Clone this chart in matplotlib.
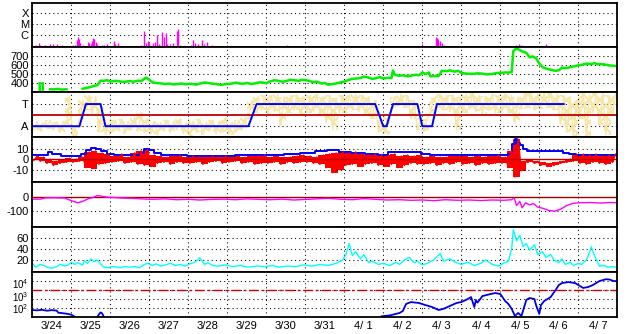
import numpy as np
import matplotlib
matplotlib.use('Agg')
import matplotlib.pyplot as plt
from matplotlib.ticker import NullLocator
from matplotlib.transforms import ScaledTranslation

plt.rcParams['font.family'] = ['Liberation Sans', 'DejaVu Sans']
plt.rcParams['mathtext.fontset'] = 'custom'
plt.rcParams['mathtext.rm'] = 'Liberation Sans'
plt.rcParams['mathtext.default'] = 'regular'
plt.rcParams['hatch.linewidth'] = 1.6

nan = np.nan

# ---------------- data (time in hours since 3/24 00 UT) ----------------
day_labels = ['3/24', '3/25', '3/26', '3/27', '3/28', '3/29', '3/30', '3/31',
              '4/ 1', '4/ 2', '4/ 3', '4/ 4', '4/ 5', '4/ 6', '4/ 7']

# Panel 1: GOES X-ray flux (W/m^2)
xray_h = [0, 2, 4, 5, 8, 11, 13, 15, 18, 25, 26, 27.5, 28, 29, 29.5, 31, 34, 35, 36, 37,
          37.5, 38, 39, 40, 43, 44, 46, 50, 51, 53, 55, 57, 67, 69, 70, 71, 72, 74, 75.5, 77,
          78, 80, 81, 82, 83, 85, 86.5, 89, 89.8, 91, 92, 97.5, 99, 100, 102, 104.5, 105.5,
          107.5, 110.5, 112.5, 120, 121.5, 157, 240, 248.5, 249, 249.5, 251, 252, 253.5,
          254.5, 257, 272.5, 279, 284, 297.5, 299.5, 301, 304.5, 316]
xray_f = [1.2e-7, 1.2e-7, 1.9e-7, 1.2e-7, 1.2e-7, 1.5e-7, 1.5e-7, 1.5e-7, 1.2e-7, 1.2e-7,
          1.2e-7, 3.5e-7, 6.6e-7, 4.3e-7, 1.9e-7, 1.2e-7, 2.3e-7, 1.9e-7, 1.5e-7, 2.8e-7,
          5.3e-7, 4.3e-7, 2.3e-7, 1.5e-7, 1.2e-7, 1.2e-7, 1.5e-7, 2.8e-7, 1.5e-7, 1.9e-7,
          1.0e-7, 1.0e-7, 1.2e-7, 2.3e-6, 1.9e-7, 2.8e-7, 1.9e-7, 1.9e-7, 2.3e-7, 1.2e-6,
          1.5e-7, 1.9e-6, 6.6e-7, 1.5e-6, 1.5e-7, 1.5e-7, 1.9e-7, 2.3e-6, 3.5e-6, 1.2e-7,
          1.0e-7, 1.2e-7, 3.5e-7, 1.9e-7, 1.5e-7, 3.5e-7, 1.5e-7, 2.3e-7, 1.2e-7, 1.0e-7,
          1.2e-7, 1.0e-7, 1.2e-7, 1.5e-7, 6.6e-7, 5.3e-7, 4.3e-7, 2.8e-7, 1.9e-7, 1.2e-7,
          1.0e-7, 1.0e-7, 1.0e-7, 1.0e-7, 1.0e-7, 1.2e-7, 1.5e-7, 1.2e-7, 1.0e-7, 1.5e-7]

# Panel 2: solar wind speed (km/s)
speed_h = [4.5, 4.6, nan, 6.4, 6.5, nan, 11, 13, 16, 18, 21, nan, 31, 34, 36, 38, 40, 42,
           44, 46, 48, 51, 53, 56, 58, 60, 62, 65, 67, 70, 72, 74, 77, 79, 82, 84, 87, 89,
           92, 94, 96, 98, 101, 103, 106, 108, 111, 113, 116, 118, 120, 122, 125, 127, 130,
           132, 135, 137, 140, 142, 144, 146, 149, 151, 154, 156, 159, 161, 164, 166, 168,
           170, 173, 175, 178, 180, 182, 185, 187, 190, 192, 195, 197, 200, 202, 204, 206,
           209, 211, 214, 216, 219, 221, 222, 223, 226, 228, 231, 233, 236, 238, 240, 242,
           244, 245, 248, 250, 252, 255, 257, 260, 262, 264, 268, 271, 274, 276, 280, 283,
           286, 288, 291, 293, 295, 296, 298, 300, 302, 304, 306, 308, 310, 312, 314, 317,
           320, 322, 324, 326, 329, 331, 334, 336, 339, 341, 344, 346, 348, 350, 353, 355,
           358, 360]
speed_v = [400, 300, nan, 400, 300, nan, 335, 333, 338, 331, 334, nan, 340, 352, 360, 372,
           380, 430, 428, 436, 420, 428, 425, 415, 420, 426, 418, 430, 425, 465, 440, 410,
           404, 400, 392, 398, 388, 392, 398, 390, 394, 395, 386, 398, 410, 405, 396, 392,
           384, 388, 396, 395, 408, 400, 396, 405, 392, 400, 412, 408, 402, 420, 435, 430,
           418, 425, 440, 435, 428, 440, 436, 430, 412, 420, 398, 405, 385, 392, 400, 412,
           420, 440, 450, 455, 460, 475, 470, 450, 455, 470, 455, 462, 460, 544, 495, 484,
           490, 478, 485, 496, 490, 520, 505, 522, 478, 482, 480, 540, 535, 545, 530, 540,
           515, 508, 505, 512, 510, 500, 505, 516, 515, 522, 520, 525, 760, 790, 770, 752,
           740, 690, 700, 680, 620, 580, 560, 548, 540, 545, 575, 570, 580, 592, 600, 610,
           620, 615, 625, 612, 615, 608, 600, 596, 590]

# Panel 3: IMF phi angle (deg), 4-hour bins: low / high of the scatter
phi_lo = [60, 50, 70, 60, 40, 90,
          0, 80, 220, 200, 40, 20,
          40, 50, 30, 60, 50, 40,
          30, 20, 50, 40, 60, 30,
          10, 40, 20, 50, 30, 40,
          20, 40, 60, 150, 200, 220,
          190, 210, 100, 200, 220, 180,
          200, 210, 190, 120, 60, 200,
          200, 220, 210, 180, 150, 40,
          30, 220, 250, 240, 150, 60,
          50, 200, 230, 220, 210, 60,
          200, 230, 210, 190, 220, 200,
          210, 200, 120, 230, 240, 220,
          230, 240, 220, 100, 40, 10,
          150, 10, 200, 100, 20, 180]
phi_hi = [130, 120, 140, 125, 130, 330,
          90, 300, 340, 330, 250, 110,
          140, 150, 130, 160, 200, 150,
          130, 120, 140, 130, 150, 120,
          130, 150, 120, 140, 130, 160,
          120, 140, 160, 300, 330, 340,
          340, 350, 330, 340, 345, 330,
          340, 350, 330, 340, 320, 345,
          340, 350, 340, 330, 300, 140,
          170, 330, 350, 340, 300, 160,
          150, 320, 350, 340, 345, 330,
          350, 360, 340, 335, 350, 340,
          350, 340, 330, 360, 360, 350,
          360, 365, 350, 340, 330, 300,
          360, 350, 365, 360, 340, 360]
sector_h = [0, 29, 33, 42, 45, 133, 138, 211, 216, 218, 222, 237, 240, 246, 249, 327]
sector_v = [90, 90, 270, 270, 90, 90, 270, 270, 90, 90, 270, 270, 90, 90, 270, 270]

# Panel 4: Bt (nT) and Bz 4-hour low/high (nT)
bt_h = [0, 4, 8, 11, 13, 17, 18, 24, 29, 31, 35, 37, 41, 44, 48, 53, 60, 65, 67, 71, 73,
        77, 82, 90, 100, 110, 120, 130, 140, 150, 160, 170, 178, 185, 192, 200, 210, 216,
        222, 238, 240, 250, 260, 270, 280, 290, 295, 296, 297.5, 299, 301, 303, 306, 315,
        325, 328, 333, 336, 345, 360]
bt_v = [4.5, 4.5, 4.3, 6.5, 5, 5, 3, 3, 3, 5, 9, 11, 10, 8, 5, 4.3, 4.3, 4.5, 6, 10, 9,
        6, 4.5, 4, 3.5, 3, 3.5, 4, 4.3, 4.5, 5, 6, 8, 9, 7, 6, 5, 4.5,
        7, 7, 5, 4.5, 4.3, 4.5, 4.3, 4.5, 5, 15, 19, 16, 14, 10, 8, 8,
        7.5, 6, 5, 4.3, 4.5, 4.3]
bz_lo = [-1, -2, -4, -6, -4, -3,
         -3, -2, -8, -9, -5, -4,
         -3, -2, -4, -3, -5, -6,
         -7, -4, -3, -5, -3, -4,
         -4, -3, -5, -3, -2, -4,
         -3, -2, -4, -3, -5, -4,
         -4, -3, -5, -3, -4, -3,
         -3, -4, -5, -8, -13, -10,
         -6, -5, -7, -5, -4, -6,
         -7, -5, -8, -6, -4, -5,
         -5, -4, -6, -4, -5, -3,
         -5, -4, -6, -4, -5, -4,
         -4, -8, -17, -11, -3, -4,
         -6, -7, -6, -4, -3, -2,
         -4, -5, -3, -4, -5, -3]
bz_hi = [3, 2, 0, -2, -1, 1,
         0, 2, 7, 8, 6, 5,
         3, 5, 2, 6, 8, 9,
         4, 3, 2, 3, 4, 2,
         3, 2, 2, 3, 2, 3,
         2, 3, 2, 3, 3, 4,
         2, 3, 2, 2, 3, 4,
         3, 2, 4, 5, 6, 7,
         6, 7, 5, 4, 5, 4,
         4, 5, 3, 4, 3, 4,
         2, 3, 2, 2, 3, 3,
         3, 2, 3, 2, 3, 4,
         2, 8, 19, -2, -1, -2,
         -3, -4, -3, -2, 0, 4,
         5, 4, 5, 3, 4, 5]

# Panel 5: Dst (nT)
dst_h = [0, 5, 8, 14, 20, 24, 28, 31, 35, 37, 40, 42, 46, 50, 55, 62, 70, 74, 82, 89, 96,
         103, 110, 118, 125, 132, 139, 146, 154, 161, 168, 175, 182, 190, 197, 204, 211,
         218, 226, 233, 240, 247, 254, 262, 269, 276, 283, 290, 295, 296.6, 298, 300,
         301.4, 303.6, 306, 308.4, 310.8, 314.4, 318, 321.6, 325.2, 328.8, 332.4, 336,
         343, 350, 355, 360]
dst_v = [-14, -14, -5, -4, -6, -25, -40, -30, -8, -4, 12, 8, 0, -2, -6, -8, -14, -15, -12,
         -18, -15, -20, -16, -14, -18, -12, -15, -18, -14, -20, -16, -12, -8, -15, -18,
         -10, -15, -20, -18, -22, -20, -25, -18, -22, -20, -24, -20, -22, -18, -5, -60,
         -30, -75, -40, -55, -45, -70, -80, -95, -100, -85, -60, -45, -40, -38, -42, -38,
         -40]

# Panel 6: cyan series
cy_h = [0, 2, 5, 7, 10, 12, 15, 17, 20, 22, 24, 26, 28, 31, 32, 34, 36, 38, 40, 42, 44,
        47, 49, 52, 54, 57, 60, 63, 66, 69, 71, 74, 76, 79, 82, 85, 88, 91, 94, 97, 100,
        103, 106, 108, 111, 114, 119, 123, 128, 133, 138, 143, 148, 152, 157, 162, 167,
        172, 177, 182, 187, 191, 193, 195, 197, 199, 202, 204, 207, 209, 213, 216, 220,
        224, 226, 229, 232, 235, 237, 240, 243, 247, 251, 253, 257, 261, 264, 268, 272,
        276, 279, 283, 287, 290, 293, 295, 296, 298, 300, 302, 304, 306, 309, 311, 314,
        316, 319, 321, 324, 326, 328, 331, 333, 336, 338, 341, 343, 344, 346, 348, 349,
        352, 354, 357, 359]
cy_v = [14, 7, 12, 10, 6, 5, 8, 12, 9, 11, 16, 12, 15, 11, 18, 14, 22, 17, 20, 13, 7,
        6, 8, 7, 6, 8, 7, 8, 6, 12, 14, 10, 13, 9, 11, 14, 10, 12, 9, 13, 16,
        24, 12, 15, 10, 9, 11, 8, 10, 7, 9, 8, 10, 7, 9, 8, 11,
        9, 12, 10, 14, 20, 30, 50, 28, 35, 22, 30, 15, 18, 12, 14, 10,
        16, 12, 20, 25, 15, 18, 11, 14, 20, 32, 18, 22, 15, 12, 16, 10,
        14, 20, 12, 9, 14, 18, 40, 75, 55, 65, 45, 50, 38, 48, 30, 35,
        25, 30, 20, 15, 22, 12, 16, 10, 14, 12, 20, 35, 44, 28, 15, 9,
        10, 7, 8, 7]

# Panel 7: GOES >2 MeV electron flux (pfu)
el_h = [0, 3, 6, 9, 12, 15, 16, 19, 22, 24, 26, nan, 40, 41, 42, 43, 44, nan, 215, 220,
        226, 228, 230, 233, 238, 242, 246, 250, 253, 257, 261, 264, 268, 270, 272, 273,
        274, 277, 282, 285, 288, 291, 293, 295, 297, 299, 301, 304, 306, 309, 310, 312,
        313, 315, 319, 322, 324, 326, 330, 334, 336, 339, 342, 345, 349, 353, 355, 358,
        360]
el_v = [6.0, 5.5, 6.3, 5.0, 5.8, 5.2, 3.0, 2.6, 2.2, 1.8, 1.1, nan, 1.0, 2.0, 3.2, 2.5,
        1.0, nan, 1.2, 1.5, 2.8, 4.6, 28, 46, 36, 21, 13, 6, 8, 17, 36, 46, 100, 166, 13,
        78, 40, 215, 360, 464, 360, 60, 28, 8, 1.3, 2.8, 1.3, 78, 130, 100, 21, 2.2, 21,
        60, 166, 1000, 3600, 6000, 7700, 6000, 3600, 1700, 2150, 3600, 10000, 16000,
        15000, 10000, 10000]

# ---------------- figure ----------------
MAG = '#FF00FF'
GRN = '#00F000'
YEL = '#F8E6A6'
BLU = '#0000FF'
RED = '#FF0000'
DRED = '#C00000'
CYN = '#00FFFF'

fig, axes = plt.subplots(7, 1, figsize=(6.28, 3.34), dpi=100, sharex=True)
fig.subplots_adjust(left=32.3 / 628, right=617.3 / 628, top=1 - 2.5 / 334,
                    bottom=1 - 317 / 334, hspace=0)

for ax in axes:
    ax.set_xlim(0, 360)
    for s in ax.spines.values():
        s.set_linewidth(1.3)
        s.set_zorder(10)
    ax.tick_params(which='both', length=0, labelsize=8, pad=2.5)

axes[0].set_xticks(np.arange(0, 361, 24))
axes[0].set_xticks(np.arange(12, 360, 24), minor=True)
for ax in axes:
    ax.grid(which='major', axis='x', color='black', linestyle=(0, (1, 3)), linewidth=0.75)
    ax.tick_params(axis='x', which='both', labelbottom=False)
axes[-1].tick_params(axis='x', which='minor', labelbottom=True, pad=3)
axes[-1].set_xticklabels(day_labels, minor=True)


def ygrid(ax, ticks, labels):
    ax.set_yticks(ticks)
    ax.set_yticklabels(labels)
    ax.yaxis.set_minor_locator(NullLocator())
    ax.grid(which='major', axis='y', color='black', linestyle=(0, (1, 3)), linewidth=0.75)


def zigzag(lo, hi, width):
    """Draw a per-bin low/high range as an up-and-down trace across each bin."""
    n = len(lo)
    t = np.ravel(np.column_stack([np.arange(n) * width + width * 0.25,
                                  np.arange(n) * width + width * 0.75]))
    v = np.ravel(np.column_stack([lo, hi]))
    return t, v


# Panel 1
ax = axes[0]
ax.set_yscale('log')
ax.set_ylim(10 ** -7.1, 1e-3)
ax.vlines(xray_h, 1e-8, xray_f, color=MAG, linewidth=1.0)
ygrid(ax, [1e-6, 1e-5, 1e-4], ['C', 'M', 'X'])

# Panel 2
ax = axes[1]
ax.set_ylim(300, 800)
ax.plot(speed_h, speed_v, color=GRN, linewidth=1.8)
ygrid(ax, [400, 500, 600, 700], ['400', '500', '600', '700'])

# Panel 3
ax = axes[2]
ax.set_ylim(0, 365)
phi_t = np.arange(len(phi_lo)) * 4 + 2
ax.fill_between(phi_t, phi_lo, phi_hi, step='mid', facecolor='none', edgecolor=YEL,
                hatch='xxx', linewidth=0)
pt, pv = zigzag(phi_lo, phi_hi, 4)
ax.plot(pt, pv, color=YEL, linewidth=1.0)
ax.axhline(180, color=DRED, linewidth=1.3)
ax.plot(sector_h, sector_v, color=BLU, linewidth=1.4)
ygrid(ax, [90, 270], ['A', 'T'])

# Panel 4
ax = axes[3]
ax.set_ylim(-22, 21)
ax.plot(bt_h, bt_v, color=BLU, linewidth=1.4, drawstyle='steps-mid')
bz_t = np.arange(len(bz_lo)) * 4 + 2
ax.fill_between(bz_t, bz_lo, bz_hi, step='mid', color=RED, linewidth=0)
zt, zv = zigzag(bz_lo, bz_hi, 4)
ax.plot(zt, zv, color=RED, linewidth=1.0)
ax.axhline(0, color=DRED, linewidth=1.0)
ygrid(ax, [-10, 0, 10], ['-10', '0', '10'])

# Panel 5
ax = axes[4]
ax.set_ylim(-214, 107)
ax.axhline(0, color='#A00000', linewidth=1.0)
ax.plot(dst_h, dst_v, color=MAG, linewidth=1.0)
ygrid(ax, [-100, 0], ['-100', '0'])

# Panel 6
ax = axes[5]
ax.set_ylim(-2, 80)
ax.plot(cy_h, cy_v, color=CYN, linewidth=1.0)
ygrid(ax, [20, 40, 60], ['20', '40', '60'])

# Panel 7
ax = axes[6]
ax.set_yscale('log')
ax.set_ylim(1, 1e5)
ax.plot(el_h, el_v, color='#0000E8', linewidth=1.3)
ax.axhline(1e3, color='#CC0000', linewidth=1.0, linestyle=(0, (7, 2, 2, 2)))
ygrid(ax, [1e1, 1e2, 1e3, 1e4], ['', '$10^2$', '$10^3$', '$10^4$'])
for k, lab in enumerate(ax.get_yticklabels()):
    lab.set_fontsize(7)
    shift = 13 - 3.5 * k
    lab.set_transform(lab.get_transform()
                      + ScaledTranslation(0, -shift / 100, fig.dpi_scale_trans))

fig.savefig('out.png', dpi=100)
